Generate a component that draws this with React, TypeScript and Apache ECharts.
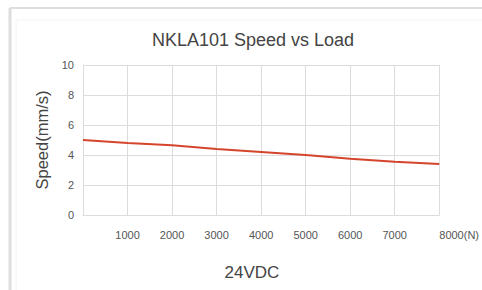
import React, { useEffect, useRef } from "react";
import * as echarts from "echarts";

const loads = [0, 1000, 2000, 3000, 4000, 5000, 6000, 7000, 8000];
const speeds = [5.0, 4.8, 4.65, 4.4, 4.2, 4.0, 3.75, 3.55, 3.4];
const titleText = "NKLA101 Speed vs Load";
const yName = "Speed(mm/s)";
const footer = "24VDC";

export default function App() {
  const ref = useRef<HTMLDivElement>(null);
  useEffect(() => {
    document.body.style.margin = "0";
    const chart = echarts.init(ref.current!, null, { renderer: "svg" });
    chart.setOption({
      animation: false,
      backgroundColor: "#ffffff",
      grid: { left: 83, right: 39, top: 65, bottom: 75 },
      xAxis: {
        type: "value",
        min: 0,
        max: 8000,
        interval: 1000,
        axisLine: { show: true, lineStyle: { color: "#dcdcdc" } },
        axisTick: { show: false },
        splitLine: { show: true, lineStyle: { color: "#dcdcdc" } },
        axisLabel: {
          color: "#555",
          fontSize: 11,
          fontFamily: "Liberation Sans",
          margin: 14,
          alignMaxLabel: "left",
          formatter: (v: number) => (v === 0 ? "" : v === 8000 ? "8000(N)" : String(v)),
        },
      },
      yAxis: {
        type: "value",
        min: 0,
        max: 10,
        interval: 2,
        name: yName,
        nameLocation: "middle",
        nameGap: 33,
        nameTextStyle: { color: "#444", fontSize: 16.5, fontFamily: "Liberation Sans" },
        axisLine: { show: true, lineStyle: { color: "#dcdcdc" } },
        axisTick: { show: false },
        splitLine: { show: true, lineStyle: { color: "#dcdcdc" } },
        axisLabel: { color: "#555", fontSize: 11, fontFamily: "Liberation Sans", margin: 9 },
      },
      series: [
        {
          type: "line",
          data: loads.map((x, i) => [x, speeds[i]]),
          symbol: "none",
          lineStyle: { color: "#d4452c", width: 2 },
        },
      ],
      graphic: [
        { type: "line", shape: { x1: 10, y1: 8, x2: 482, y2: 8 }, style: { stroke: "#dedede", lineWidth: 2 } },
        { type: "line", shape: { x1: 10, y1: 8, x2: 10, y2: 290 }, style: { stroke: "#dedede", lineWidth: 3 } },
        { type: "line", shape: { x1: 16, y1: 20, x2: 482, y2: 20 }, style: { stroke: "#f2f2f2", lineWidth: 1 } },
        { type: "line", shape: { x1: 16, y1: 20, x2: 16, y2: 290 }, style: { stroke: "#f4f4f4", lineWidth: 1 } },
        {
          type: "text",
          x: 253,
          y: 40,
          style: {
            text: titleText,
            fill: "#444",
            fontSize: 18,
            fontFamily: "Liberation Sans",
            textAlign: "center",
            textVerticalAlign: "middle",
          },
        },
        {
          type: "text",
          x: 252,
          y: 272,
          style: {
            text: footer,
            fill: "#444",
            fontSize: 17,
            fontFamily: "Liberation Sans",
            textAlign: "center",
            textVerticalAlign: "middle",
          },
        },
      ],
    });
    return () => chart.dispose();
  }, []);
  return <div ref={ref} style={{ width: 482, height: 290 }} />;
}
